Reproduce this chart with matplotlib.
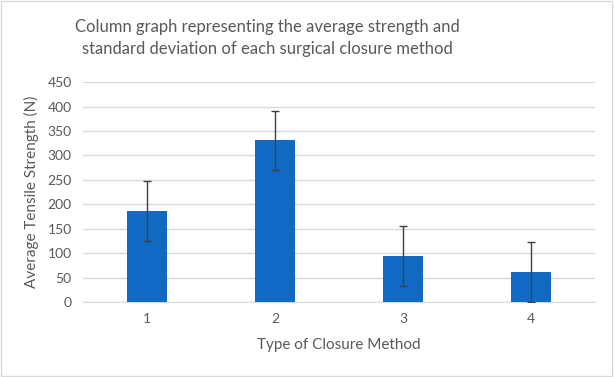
import numpy as np
import matplotlib.pyplot as plt
from matplotlib.patches import Rectangle

methods   = ['1', '2', '3', '4']
mean_str  = [186, 331, 94, 61]
std_str   = [61, 61, 61, 61]
y_ticks   = [0, 50, 100, 150, 200, 250, 300, 350, 400, 450]

plt.rcParams['font.family'] = ['Lato', 'DejaVu Sans']
txt = '#595959'

fig = plt.figure(figsize=(6.14, 3.77), dpi=100)
ax = fig.add_axes([0.135, 0.199, 0.834, 0.583])

x = np.arange(len(methods))
ax.bar(x, mean_str, width=0.31, color='#1269C4', zorder=3)
ax.errorbar(x, mean_str, yerr=std_str, fmt='none', ecolor='#404040',
            elinewidth=1.0, capsize=2.6, capthick=1.0, zorder=4)

ax.set_xlim(-0.5, len(methods) - 0.5)
ax.set_ylim(0, 450)
ax.set_yticks(y_ticks)
ax.set_xticks(x)
ax.set_xticklabels(methods)
ax.grid(axis='y', color='#d9d9d9', lw=1, zorder=0)
for s in ['top', 'right', 'left']:
    ax.spines[s].set_visible(False)
ax.spines['bottom'].set_color('#d9d9d9')
ax.tick_params(length=0, labelsize=10, colors=txt, pad=8)

ax.set_ylabel('Average Tensile Strength (N)', fontsize=11, color=txt, labelpad=6)
ax.set_xlabel('Type of Closure Method', fontsize=11, color=txt, labelpad=9)
fig.text(0.436, 0.90, 'Column graph representing the average strength and\n'
         'standard deviation of each surgical closure method',
         ha='center', va='center', fontsize=12, color=txt, linespacing=1.45)

# light chart border like the Excel frame
fig.patches.append(Rectangle((0.002, 0.003), 0.995, 0.994, transform=fig.transFigure,
                             fill=False, edgecolor='#d9d9d9', lw=1))

fig.savefig('out.png', dpi=100)
